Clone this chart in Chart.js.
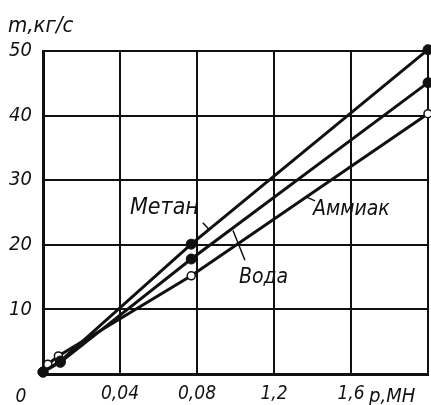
<!DOCTYPE html>
<html>
<head>
<meta charset="utf-8">
<script src="https://cdn.jsdelivr.net/npm/chart.js@4/dist/chart.umd.min.js"></script>
<style>
  html, body { margin: 0; padding: 0; background: #fff; }
  #wrap { width: 431px; height: 405px; position: relative; }
</style>
</head>
<body>
<div id="wrap"><canvas id="c" width="431" height="405"></canvas></div>
<script>
// ---- data ----
const xTickValues = [0, 0.4, 0.8, 1.2, 1.6, 2.0];
const xTickLabels = ["", "0,04", "0,08", "1,2", "1,6", ""];
const yTickValues = [0, 10, 20, 30, 40, 50];
const yTickLabels = ["", "10", "20", "30", "40", "50"];

const methaneP = [0, 0.09, 0.77, 2.0];
const methaneM = [0.3, 2.0, 20.1, 50.2];
const waterP   = [0, 0.09, 0.77, 2.0];
const waterM   = [0.3, 1.8, 17.8, 45.1];
const ammoniaP = [0.025, 0.08, 0.77, 2.0];
const ammoniaM = [1.5, 2.8, 15.2, 40.3];

const seriesNames = ["Метан", "Вода", "Аммиак"];
const yAxisTitle = "m,кг/с";
const xAxisTitle = "p,МН";
const originLabel = "0";

// label anchors in data units: [textX, textY, leaderFromX, leaderFromY, leaderToX, leaderToY]
const labelAnchors = [
  [0.452, 25.7, 0.83, 23.4, 0.862, 22.4],
  [1.018, 15.0, 0.987, 22.2, 1.049, 17.6],
  [1.403, 25.5, 1.361, 27.5, 1.413, 26.8]
];

const FONT = "'DejaVu Sans Condensed', 'DejaVu Sans', sans-serif";
const INK = "#111";

function pts(xs, ys) { return xs.map((x, i) => ({ x: x, y: ys[i] })); }

const annot = {
  id: 'annot',
  afterDraw(chart) {
    const ctx = chart.ctx, xs = chart.scales.x, ys = chart.scales.y;
    ctx.save();
    ctx.fillStyle = INK;
    ctx.strokeStyle = INK;
    ctx.textBaseline = 'middle';
    ctx.textAlign = 'left';
    const sizes = [23, 21, 21];
    labelAnchors.forEach((a, i) => {
      ctx.font = "italic " + sizes[i] + "px " + FONT;
      ctx.fillText(seriesNames[i], xs.getPixelForValue(a[0]), ys.getPixelForValue(a[1]));
      ctx.lineWidth = 1.5;
      ctx.beginPath();
      ctx.moveTo(xs.getPixelForValue(a[2]), ys.getPixelForValue(a[3]));
      ctx.lineTo(xs.getPixelForValue(a[4]), ys.getPixelForValue(a[5]));
      ctx.stroke();
    });
    // axis titles and origin
    ctx.font = "italic 22px " + FONT;
    ctx.fillText(yAxisTitle, 8, 26);
    ctx.font = "italic 20px " + FONT;
    ctx.fillText(xAxisTitle, 369, 397);
    ctx.font = "italic 19px " + FONT;
    ctx.textAlign = 'center';
    ctx.fillText(originLabel, 21, 397);
    ctx.restore();
  }
};

new Chart(document.getElementById('c'), {
  type: 'scatter',
  data: {
    datasets: [
      { label: seriesNames[0], data: pts(methaneP, methaneM), showLine: true,
        borderColor: INK, borderWidth: 3, pointRadius: 5, pointBackgroundColor: INK,
        pointBorderColor: INK, pointBorderWidth: 1, clip: false },
      { label: seriesNames[1], data: pts(waterP, waterM), showLine: true,
        borderColor: INK, borderWidth: 3, pointRadius: 5, pointBackgroundColor: INK,
        pointBorderColor: INK, pointBorderWidth: 1, clip: false },
      { label: seriesNames[2], data: pts(ammoniaP, ammoniaM), showLine: true,
        borderColor: INK, borderWidth: 3, pointRadius: 4, pointBackgroundColor: '#fff',
        pointBorderColor: INK, pointBorderWidth: 1.5, clip: false }
    ]
  },
  options: {
    responsive: false,
    animation: false,
    devicePixelRatio: 1,
    layout: { autoPadding: false, padding: { top: 51, right: 3, left: 0, bottom: 0 } },
    plugins: { legend: { display: false }, tooltip: { enabled: false } },
    scales: {
      x: {
        type: 'linear', min: 0, max: 2.0,
        afterBuildTicks: (s) => { s.ticks = xTickValues.map(v => ({ value: v })); },
        afterFit: (s) => { s.height = 31; s.paddingRight = 0; s.paddingLeft = 0; },
        ticks: {
          color: INK, padding: 9, maxRotation: 0, autoSkip: false,
          font: { family: FONT, size: 19, style: 'italic' },
          callback: (v) => { const i = xTickValues.indexOf(v); return i >= 0 ? xTickLabels[i] : ''; }
        },
        grid: { color: INK, lineWidth: 2, drawTicks: false },
        border: { color: INK, width: 3 }
      },
      y: {
        type: 'linear', min: 0, max: 50,
        afterBuildTicks: (s) => { s.ticks = yTickValues.map(v => ({ value: v })); },
        afterFit: (s) => { s.width = 43; s.paddingTop = 0; s.paddingBottom = 0; },
        ticks: {
          color: INK, padding: 11, autoSkip: false,
          font: { family: FONT, size: 20, style: 'italic' },
          callback: (v) => { const i = yTickValues.indexOf(v); return i >= 0 ? yTickLabels[i] : ''; }
        },
        grid: { color: INK, lineWidth: 2, drawTicks: false },
        border: { color: INK, width: 3 }
      }
    }
  },
  plugins: [annot]
});
</script>
</body>
</html>
